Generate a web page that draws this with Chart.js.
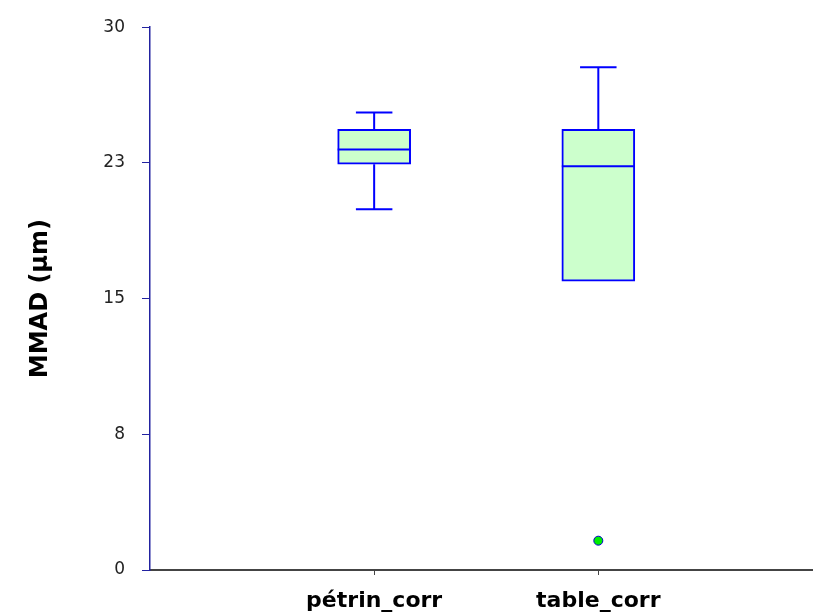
<!DOCTYPE html>
<html>
<head>
<meta charset="utf-8">
<script src="https://cdn.jsdelivr.net/npm/chart.js@4"></script>
<style>
    body { margin: 0; background: #ffffff; overflow: hidden; }
    #wrap { width: 819px; height: 614px; position: relative; }
</style>
</head>
<body>
<div id="wrap"><canvas id="boxChart"></canvas></div>
<script>
// Box plot summary
const categories = ["pétrin_corr", "table_corr"];
const whiskerLow = [19.94, 15.97];
const q1 = [22.43, 15.97];
const median = [23.24, 22.32];
const q3 = [24.35, 24.36];
const whiskerHigh = [25.29, 27.79];
const outlierCategory = [2];
const outlierValue = [1.62];
const yTicks = [0, 7.5, 15, 22.5, 30];

// Whiskers, caps and medians drawn through the chart's own scales
const whiskerPlugin = {
    id: "whiskers",
    afterDatasetsDraw(chart) {
        const ctx = chart.ctx;
        const x = chart.scales.x;
        const y = chart.scales.y;
        ctx.save();
        ctx.strokeStyle = "#0000ff";
        ctx.lineWidth = 2;
        categories.forEach((c, i) => {
            const cx = x.getPixelForValue(i + 1);
            const bar = chart.getDatasetMeta(0).data[i];
            const half = bar.width / 2;
            ctx.beginPath();
            // upper whisker
            ctx.moveTo(cx, y.getPixelForValue(q3[i]));
            ctx.lineTo(cx, y.getPixelForValue(whiskerHigh[i]));
            // lower whisker
            ctx.moveTo(cx, y.getPixelForValue(q1[i]));
            ctx.lineTo(cx, y.getPixelForValue(whiskerLow[i]));
            // caps
            if (whiskerHigh[i] > q3[i]) {
                ctx.moveTo(cx - half / 2, y.getPixelForValue(whiskerHigh[i]));
                ctx.lineTo(cx + half / 2, y.getPixelForValue(whiskerHigh[i]));
            }
            if (whiskerLow[i] < q1[i]) {
                ctx.moveTo(cx - half / 2, y.getPixelForValue(whiskerLow[i]));
                ctx.lineTo(cx + half / 2, y.getPixelForValue(whiskerLow[i]));
            }
            // median
            ctx.moveTo(cx - half, y.getPixelForValue(median[i]));
            ctx.lineTo(cx + half, y.getPixelForValue(median[i]));
            ctx.stroke();
        });
        ctx.restore();
    }
};

new Chart(document.getElementById("boxChart"), {
    type: "bar",
    data: {
        datasets: [
            {
                type: "bar",
                data: categories.map((c, i) => ({ x: i + 1, y: [q1[i], q3[i]] })),
                backgroundColor: "#ccffcc",
                borderColor: "#0000ff",
                borderWidth: 2,
                borderSkipped: false,
                barThickness: 73
            },
            {
                type: "scatter",
                data: outlierCategory.map((c, i) => ({ x: c, y: outlierValue[i] })),
                backgroundColor: "#00ee00",
                borderColor: "#0000cc",
                borderWidth: 1,
                pointRadius: 4.5
            }
        ]
    },
    options: {
        responsive: true,
        maintainAspectRatio: false,
        animation: false,
        layout: { padding: { top: 27, left: 0, right: 0, bottom: 0 } },
        plugins: {
            legend: { display: false },
            tooltip: { enabled: false }
        },
        scales: {
            x: {
                type: "linear",
                min: 0,
                max: 2.96,
                offset: false,
                afterBuildTicks: (scale) => {
                    scale.ticks = categories.map((c, i) => ({ value: i + 1 }));
                },
                afterFit: (scale) => { scale.height = 44; },
                ticks: {
                    callback: (v) => categories[v - 1],
                    color: "#000000",
                    font: { family: "DejaVu Sans", size: 22, weight: "bold" },
                    padding: 13,
                    maxRotation: 0
                },
                grid: { drawOnChartArea: false, offset: false, tickLength: 5, color: "#444444", lineWidth: 1 },
                border: { color: "#444444", width: 2 }
            },
            y: {
                min: 0,
                max: 30,
                afterBuildTicks: (scale) => {
                    scale.ticks = yTicks.map((v) => ({ value: v }));
                },
                afterFit: (scale) => { scale.width = 150; },
                ticks: {
                    callback: (v) => Math.round(v),
                    color: "#222222",
                    font: { family: "DejaVu Sans", size: 17 },
                    padding: 17
                },
                grid: { drawOnChartArea: false, tickLength: 8, color: "#2222a0", lineWidth: 1 },
                border: { color: "#2222a0", width: 1.5 },
                title: {
                    display: true,
                    text: "MMAD (µm)",
                    color: "#000000",
                    font: { family: "DejaVu Sans", size: 24, weight: "bold" },
                    padding: { top: 26, bottom: 0 }
                }
            }
        }
    },
    plugins: [whiskerPlugin]
});
</script>
</body>
</html>
